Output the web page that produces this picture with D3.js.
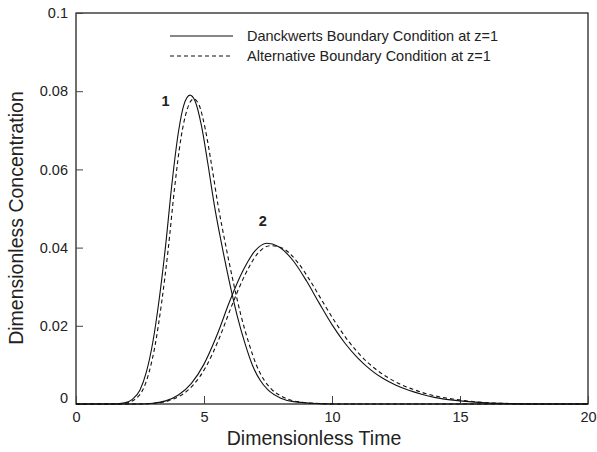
<!DOCTYPE html>
<html>
<head>
<meta charset="utf-8">
<script src="https://cdn.jsdelivr.net/npm/d3@7"></script>
<style>
  body { margin: 0; background: #fff; }
  svg text { font-family: "Liberation Sans", Arial, sans-serif; fill: #222; }
</style>
</head>
<body>
<svg id="chart" width="597" height="452"></svg>
<script>
// values
const xTicks = [0, 5, 10, 15, 20];
const yTicks = [0, 0.02, 0.04, 0.06, 0.08, 0.1];
const yTickLabels = ['0', '0.02', '0.04', '0.06', '0.08', '0.1'];

const legendLabels = ['Danckwerts Boundary Condition at z=1', 'Alternative Boundary Condition at z=1'];

// curve 1 (short column), Danckwerts
const curve1Solid = [
  [0, 0], [1.5, 0], [1.9, 0.0003], [2.2, 0.0012], [2.5, 0.0036], [2.75, 0.0082], [3.0, 0.0158],
  [3.25, 0.0268], [3.5, 0.0405], [3.75, 0.0565], [4.0, 0.0695], [4.2, 0.0762], [4.45, 0.079],
  [4.65, 0.0775], [4.9, 0.0712], [5.15, 0.0615], [5.4, 0.051], [5.7, 0.0405], [6.0, 0.031],
  [6.3, 0.0225], [6.6, 0.0155], [6.9, 0.0098], [7.2, 0.006], [7.5, 0.0036], [8.0, 0.0015],
  [8.5, 0.0006], [9.5, 0.0001], [10, 0], [20, 0]
];
// curve 1, alternative condition
const curve1Dashed = [
  [0, 0], [1.6, 0], [2.0, 0.0003], [2.3, 0.0012], [2.6, 0.0035], [2.85, 0.008], [3.1, 0.0154],
  [3.35, 0.0262], [3.6, 0.0395], [3.85, 0.0552], [4.1, 0.068], [4.35, 0.0755], [4.6, 0.078],
  [4.8, 0.0766], [5.05, 0.0703], [5.3, 0.061], [5.55, 0.0508], [5.85, 0.0405], [6.15, 0.031],
  [6.45, 0.0225], [6.75, 0.0156], [7.05, 0.0099], [7.35, 0.0061], [7.65, 0.0037], [8.15, 0.0016],
  [8.65, 0.0006], [9.6, 0.0001], [10.2, 0], [20, 0]
];
// curve 2 (long column), Danckwerts
const curve2Solid = [
  [0, 0], [2.5, 0], [3.0, 0.0002], [3.5, 0.0008], [4.0, 0.0023], [4.5, 0.0052], [5.0, 0.0102],
  [5.5, 0.0175], [6.0, 0.0262], [6.5, 0.0338], [7.0, 0.0392], [7.45, 0.0411], [7.9, 0.0403],
  [8.5, 0.0365], [9.0, 0.0315], [9.5, 0.0258], [10.0, 0.0203], [10.5, 0.0156], [11.0, 0.0118],
  [11.5, 0.0088], [12.0, 0.0065], [12.5, 0.0048], [13.0, 0.0035], [13.5, 0.0025], [14.0, 0.0017],
  [15.0, 0.0008], [16.0, 0.0003], [17, 0.0001], [18, 0], [20, 0]
];
// curve 2, alternative condition
const curve2Dashed = [
  [0, 0], [2.6, 0], [3.1, 0.0002], [3.6, 0.0008], [4.1, 0.0022], [4.6, 0.005], [5.1, 0.0098],
  [5.6, 0.0169], [6.1, 0.0254], [6.6, 0.033], [7.1, 0.0385], [7.6, 0.0405], [8.05, 0.0399],
  [8.65, 0.0363], [9.15, 0.0315], [9.65, 0.026], [10.15, 0.0207], [10.65, 0.016], [11.15, 0.0122],
  [11.65, 0.0092], [12.15, 0.0069], [12.65, 0.0051], [13.15, 0.0038], [13.65, 0.0027], [14.15, 0.0019],
  [15.15, 0.0009], [16.15, 0.0003], [17.2, 0.0001], [18.2, 0], [20, 0]
];

const peakLabels = [
  {text: '1', x: 3.5, y: 0.0762},
  {text: '2', x: 7.3, y: 0.0455}
];

const svg = d3.select('#chart');
const margin = {left: 76, right: 9, top: 13, bottom: 48};
const W = 597, H = 452;

const x = d3.scaleLinear().domain([0, 20]).range([margin.left, W - margin.right]);
const y = d3.scaleLinear().domain([0, 0.1]).range([H - margin.bottom, margin.top]);

// frame
svg.append('rect')
  .attr('x', x(0)).attr('y', y(0.1))
  .attr('width', x(20) - x(0)).attr('height', y(0) - y(0.1))
  .attr('fill', 'none').attr('stroke', '#111').attr('stroke-width', 1.2);

// ticks point inward
const xAxis = d3.axisBottom(x).tickValues(xTicks).tickSize(-8).tickPadding(8).tickFormat(d3.format('d'));
const gx = svg.append('g').attr('transform', `translate(0,${y(0)})`).call(xAxis);
gx.select('.domain').remove();
gx.selectAll('.tick line').attr('stroke', '#444');
gx.selectAll('.tick text').style('font-size', '14.5px').attr('fill', '#222');

const yAxis = d3.axisLeft(y).tickValues(yTicks).tickSize(-7).tickPadding(8)
  .tickFormat((d, i) => yTickLabels[i]);
const gy = svg.append('g').attr('transform', `translate(${x(0)},0)`).call(yAxis);
gy.select('.domain').remove();
gy.selectAll('.tick line').attr('stroke', '#444');
gy.selectAll('.tick text').style('font-size', '14.5px').attr('fill', '#222');
// the zero on y sits a bit above the axis line
gy.selectAll('.tick text').filter(d => d === 0).attr('dy', '-0.1em');

// axis titles (both sit a little off the plot centre in the original)
svg.append('text')
  .attr('x', 314).attr('y', 445)
  .attr('text-anchor', 'middle').style('font-size', '19.5px')
  .text('Dimensionless Time');
svg.append('text')
  .attr('transform', 'translate(23,218) rotate(-90)')
  .attr('text-anchor', 'middle').style('font-size', '19.5px')
  .text('Dimensionless Concentration');

// curves
const line = d3.line().x(d => x(d[0])).y(d => y(d[1])).curve(d3.curveMonotoneX);
const series = [
  {data: curve1Solid, dash: null},
  {data: curve1Dashed, dash: '4,3'},
  {data: curve2Solid, dash: null},
  {data: curve2Dashed, dash: '4,3'}
];
svg.selectAll('.curve').data(series).enter()
  .append('path')
  .attr('class', 'curve')
  .attr('d', d => line(d.data))
  .attr('fill', 'none')
  .attr('stroke', '#111')
  .attr('stroke-width', 1.1)
  .attr('stroke-dasharray', d => d.dash);

// peak labels
svg.selectAll('.peak').data(peakLabels).enter()
  .append('text')
  .attr('class', 'peak')
  .attr('x', d => x(d.x)).attr('y', d => y(d.y))
  .attr('text-anchor', 'middle')
  .style('font-size', '14.5px').style('font-weight', 'bold')
  .text(d => d.text);

// legend
const legend = svg.append('g').attr('transform', 'translate(170,36)');
legendLabels.forEach((label, i) => {
  const row = legend.append('g').attr('transform', `translate(0,${i * 20})`);
  row.append('line')
    .attr('x1', 0).attr('x2', 63).attr('y1', 0).attr('y2', 0)
    .attr('stroke', '#111').attr('stroke-width', 1.1)
    .attr('stroke-dasharray', i === 1 ? '4,3' : null);
  row.append('text')
    .attr('x', 77).attr('y', 0).attr('dy', '0.35em')
    .style('font-size', '14.5px')
    .text(label);
});
</script>
</body>
</html>
